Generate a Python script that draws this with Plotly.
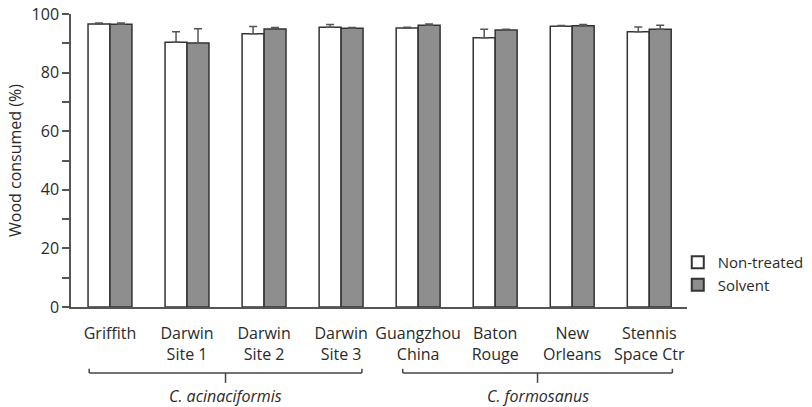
import plotly.graph_objects as go

sites = ["Griffith", "Darwin<br>Site 1", "Darwin<br>Site 2", "Darwin<br>Site 3",
         "Guangzhou<br>China", "Baton<br>Rouge", "New<br>Orleans", "Stennis<br>Space Ctr"]
non_treated = [96.6, 90.4, 93.3, 95.5, 95.2, 91.9, 95.8, 93.9]
non_treated_err = [0.3, 3.5, 2.4, 0.9, 0.3, 2.9, 0.3, 1.7]
solvent = [96.5, 90.1, 94.9, 95.1, 96.2, 94.5, 96.0, 94.8]
solvent_err = [0.4, 4.9, 0.5, 0.3, 0.4, 0.3, 0.4, 1.4]
y_ticks = [0, 20, 40, 60, 80, 100]
groups = ["C. acinaciformis", "C. formosanus"]

FONT = "Open Sans, Liberation Sans, sans-serif"
TXT = "#2a2a2a"
EDGE = "#333333"

x = list(range(len(sites)))

fig = go.Figure()
fig.add_trace(go.Bar(
    x=x, y=non_treated, name="Non-treated",
    marker=dict(color="white", line=dict(color=EDGE, width=1.5)),
    error_y=dict(type="data", array=non_treated_err, arrayminus=[0]*len(x),
                 symmetric=False, color="#555555", thickness=1.5, width=4),
))
fig.add_trace(go.Bar(
    x=x, y=solvent, name="Solvent",
    marker=dict(color="#8e8e8e", line=dict(color=EDGE, width=1.5)),
    error_y=dict(type="data", array=solvent_err, arrayminus=[0]*len(x),
                 symmetric=False, color="#555555", thickness=1.5, width=4),
))

shapes = []
annotations = []
brackets = [(-0.27, 3.27), (3.8, 7.3)]
y_line = -0.225
y_end = -0.211
y_mid = -0.259
for (x0, x1), g in zip(brackets, groups):
    xm = (x0 + x1) / 2
    line = dict(color="#444444", width=1.5)
    shapes.append(dict(type="line", xref="x", yref="paper", x0=x0, x1=x1, y0=y_line, y1=y_line, line=line))
    shapes.append(dict(type="line", xref="x", yref="paper", x0=x0, x1=x0, y0=y_line, y1=y_end, line=line))
    shapes.append(dict(type="line", xref="x", yref="paper", x0=x1, x1=x1, y0=y_line, y1=y_end, line=line))
    shapes.append(dict(type="line", xref="x", yref="paper", x0=xm, x1=xm, y0=y_line, y1=y_mid, line=line))
    annotations.append(dict(x=xm, xref="x", y=-0.304, yref="paper", text="<i>%s</i>" % g,
                            showarrow=False, font=dict(family=FONT, size=16, color=TXT),
                            xanchor="center", yanchor="middle"))

fig.update_layout(
    width=812, height=407,
    margin=dict(l=71, r=125, t=14, b=100, autoexpand=False),
    paper_bgcolor="white", plot_bgcolor="white",
    barmode="group", bargap=0.43, bargroupgap=0,
    font=dict(family=FONT, size=16, color=TXT),
    showlegend=True,
    legend=dict(x=0.985, xanchor="left", y=0.114, yanchor="middle",
                font=dict(family=FONT, size=15, color=TXT),
                bgcolor="rgba(0,0,0,0)", tracegroupgap=0, itemsizing="constant"),
    shapes=shapes, annotations=annotations,
    xaxis=dict(range=[-0.506, 7.49], tickmode="array", tickvals=x, ticktext=sites,
               showline=True, linecolor="#555555", linewidth=1.5, ticks="",
               showgrid=False, zeroline=False, ticklabelstandoff=11, automargin=False,
               tickfont=dict(family=FONT, size=16, color=TXT)),
    yaxis=dict(range=[0, 100], tickmode="array", tickvals=y_ticks, automargin=False,
               showline=True, linecolor="#555555", linewidth=1.5,
               ticks="outside", ticklen=7, tickwidth=1.5, tickcolor="#555555",
               minor=dict(ticks="outside", ticklen=7, tickwidth=1.5, tickcolor="#555555",
                          dtick=10, showgrid=False),
               showgrid=False, zeroline=False, ticklabeloverflow="allow",
               tickfont=dict(family=FONT, size=16, color=TXT),
               title=dict(text="Wood consumed (%)", standoff=6,
                          font=dict(family=FONT, size=16, color=TXT))),
)

# remove the page's default 8px body margin so the figure fills the window
fig.write_html("out.html", config={"displayModeBar": False},
               post_script="document.body.style.margin='0';")
